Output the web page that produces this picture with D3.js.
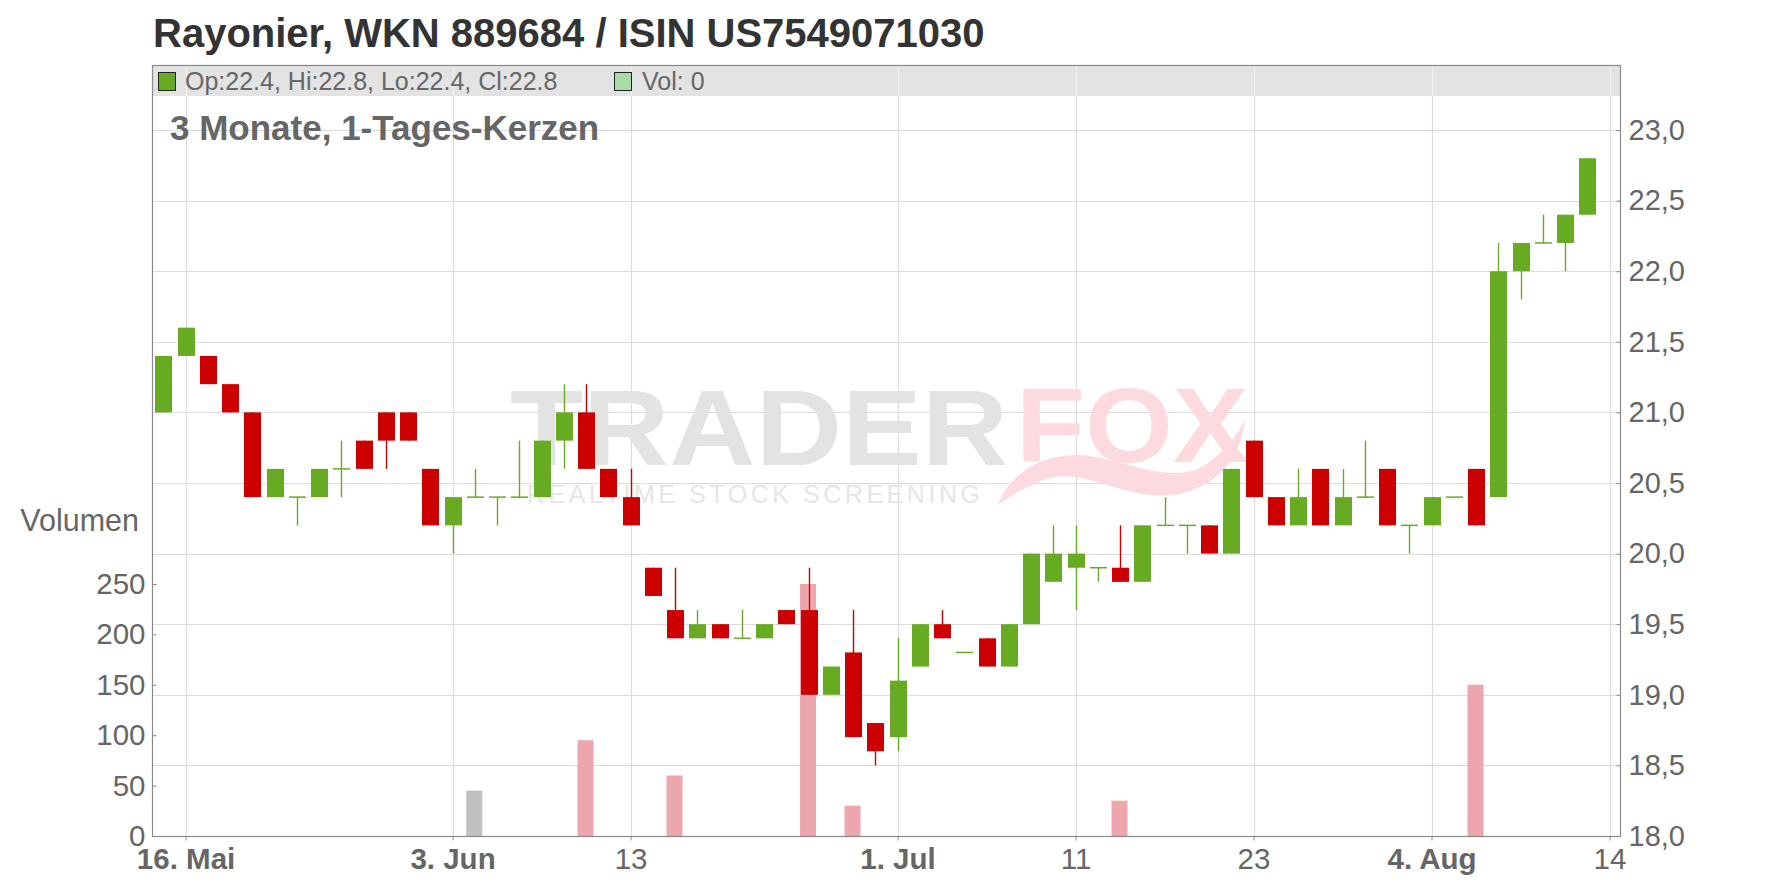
<!DOCTYPE html>
<html><head><meta charset="utf-8">
<script src="https://cdn.jsdelivr.net/npm/d3@7"></script>
<style>
body{margin:0;background:#fff;}
svg{display:block;font-family:"Liberation Sans",Arial,Helvetica,sans-serif;}
</style>
</head><body>
<svg id="c" width="1776" height="888"></svg>
<script>
// ---------- data ----------
const dates = ["2025-05-15","2025-05-16","2025-05-19","2025-05-20","2025-05-21","2025-05-22","2025-05-23",
"2025-05-26","2025-05-27","2025-05-28","2025-05-29","2025-05-30","2025-06-02","2025-06-03","2025-06-04",
"2025-06-05","2025-06-06","2025-06-09","2025-06-10","2025-06-11","2025-06-12","2025-06-13","2025-06-16",
"2025-06-17","2025-06-18","2025-06-19","2025-06-20","2025-06-23","2025-06-24","2025-06-25","2025-06-26",
"2025-06-27","2025-06-30","2025-07-01","2025-07-02","2025-07-03","2025-07-04","2025-07-07","2025-07-08",
"2025-07-09","2025-07-10","2025-07-11","2025-07-14","2025-07-15","2025-07-16","2025-07-17","2025-07-18",
"2025-07-21","2025-07-22","2025-07-23","2025-07-24","2025-07-25","2025-07-28","2025-07-29","2025-07-30",
"2025-07-31","2025-08-01","2025-08-04","2025-08-05","2025-08-06","2025-08-07","2025-08-08","2025-08-11",
"2025-08-12","2025-08-13"];
const openValues  = [21.0,21.4,21.4,21.2,21.0,20.4,20.4,20.4,20.6,20.8,21.0,21.0,20.6,20.2,20.4,20.4,20.4,20.4,20.8,21.0,20.6,20.4,
19.9,19.6,19.4,19.5,19.4,19.4,19.6,19.6,19.0,19.3,18.8,18.7,19.2,19.5,19.3,19.4,19.2,19.5,19.8,19.9,19.9,19.9,19.8,20.2,20.2,
20.2,20.0,20.8,20.4,20.2,20.6,20.2,20.4,20.6,20.2,20.2,20.4,20.6,20.4,22.0,22.2,22.2,22.4];
const highValues  = [21.4,21.6,21.4,21.2,21.0,20.6,20.4,20.6,20.8,20.8,21.0,21.0,20.6,20.4,20.6,20.4,20.8,20.8,21.2,21.2,20.6,20.6,
19.9,19.9,19.6,19.5,19.6,19.5,19.6,19.9,19.2,19.6,18.8,19.4,19.5,19.6,19.3,19.4,19.5,20.0,20.2,20.2,19.9,20.2,20.2,20.4,20.2,
20.2,20.6,20.8,20.4,20.6,20.6,20.6,20.8,20.6,20.2,20.4,20.4,20.6,22.2,22.2,22.4,22.4,22.8];
const lowValues   = [21.0,21.4,21.2,21.0,20.4,20.4,20.2,20.4,20.4,20.6,20.6,20.8,20.2,20.0,20.4,20.2,20.4,20.4,20.6,20.6,20.4,20.2,
19.7,19.4,19.4,19.4,19.4,19.4,19.5,19.0,19.0,18.7,18.5,18.6,19.2,19.4,19.3,19.2,19.2,19.5,19.8,19.6,19.8,19.8,19.8,20.2,20.0,
20.0,20.0,20.4,20.2,20.2,20.2,20.2,20.4,20.2,20.0,20.2,20.4,20.2,20.4,21.8,22.2,22.0,22.4];
const closeValues = [21.4,21.6,21.2,21.0,20.4,20.6,20.4,20.6,20.6,20.6,20.8,20.8,20.2,20.4,20.4,20.4,20.4,20.8,21.0,20.6,20.4,20.2,
19.7,19.4,19.5,19.4,19.4,19.5,19.5,19.0,19.2,18.7,18.6,19.1,19.5,19.4,19.3,19.2,19.5,20.0,20.0,20.0,19.9,19.8,20.2,20.2,20.2,
20.0,20.6,20.4,20.2,20.4,20.2,20.4,20.4,20.2,20.2,20.4,20.4,20.2,22.0,22.2,22.2,22.4,22.8];
const volumeValues = [0,0,0,0,0,0,0,0,0,0,0,0,0,0,45,0,0,0,0,95,0,0,0,60,0,0,0,0,0,250,0,30,0,0,0,0,0,0,0,0,0,0,0,35,0,0,0,
0,0,0,0,0,0,0,0,0,0,0,0,150,0,0,0,0,0];

const axisEndDate = "2025-08-14";
const priceTicks  = [18.0,18.5,19.0,19.5,20.0,20.5,21.0,21.5,22.0,22.5,23.0];
const volumeTicks = [0,50,100,150,200,250];
const xTickDates  = ["2025-05-16","2025-06-03","2025-06-13","2025-07-01","2025-07-11","2025-07-23","2025-08-04","2025-08-14"];
const xTickLabels = ["16. Mai","3. Jun","13","1. Jul","11","23","4. Aug","14"];
const xTickBold   = [true,true,false,true,false,false,true,false];

const titleText = "Rayonier, WKN 889684 / ISIN US7549071030";
const subtitleText = "3 Monate, 1-Tages-Kerzen";
const volumeLabel = "Volumen";

// ---------- layout ----------
const L = 152, R = 1620, T = 65, B = 836;
const GREEN = "#67ab23", RED = "#cc0000", VOL_RED = "#eea6ae", VOL_GREY = "#c0c0c0", VOL_GREEN = "#a8dba8";
const TXT = "#666666";

const svg = d3.select("#c");
const data = dates.map((d,i)=>({date:d,o:openValues[i],h:highValues[i],l:lowValues[i],c:closeValues[i],v:volumeValues[i]}));

const x = d3.scalePoint().domain(dates.concat([axisEndDate])).range([163.3, 1609.5]);
const y = d3.scaleLinear().domain([18,23]).range([B,130]);
const yv = d3.scaleLinear().domain([0,250]).range([B,584]);

// title
svg.append("text").attr("x",153).attr("y",47).attr("font-size",40).attr("font-weight","bold")
  .attr("fill","#333").text(titleText);

// horizontal grid
svg.append("g").selectAll("line").data(priceTicks.filter(t=>t>18)).join("line")
  .attr("x1",L).attr("x2",R).attr("y1",d=>Math.round(y(d))+0.5).attr("y2",d=>Math.round(y(d))+0.5)
  .attr("stroke","#dcdcdc").attr("stroke-width",1.2);

// legend bar background
svg.append("rect").attr("x",L).attr("y",T).attr("width",R-L).attr("height",31).attr("fill","#e3e3e3");

// vertical grid
const vg = svg.append("g");
vg.selectAll("line.g").data(xTickDates).join("line").attr("class","g")
  .attr("x1",d=>Math.round(x(d))+0.5).attr("x2",d=>Math.round(x(d))+0.5).attr("y1",T+31).attr("y2",B)
  .attr("stroke","#dcdcdc").attr("stroke-width",1.2);
vg.selectAll("line.h").data(xTickDates).join("line").attr("class","h")
  .attr("x1",d=>Math.round(x(d))+0.5).attr("x2",d=>Math.round(x(d))+0.5).attr("y1",T).attr("y2",T+31)
  .attr("stroke","#efefef").attr("stroke-width",1.2);

// watermark
const wm = svg.append("g");
wm.append("text").attr("x",510).attr("y",465).attr("font-size",108).attr("font-weight","bold")
  .attr("textLength",498).attr("lengthAdjust","spacingAndGlyphs").attr("fill","#e3e3e3").text("TRADER");
wm.append("path").attr("d","M998,505 C1010,470 1050,450 1090,456 C1130,462 1160,480 1195,470 C1215,462 1235,440 1245,420 C1240,470 1200,500 1150,495 C1110,490 1080,470 1050,478 C1030,484 1012,495 998,505 Z")
  .attr("fill","#fddadf");
wm.append("text").attr("x",1016).attr("y",462).attr("font-size",106).attr("font-weight","bold")
  .attr("textLength",232).attr("lengthAdjust","spacingAndGlyphs").attr("fill","#fddadf").text("FOX");
wm.append("text").attr("x",527).attr("y",503).attr("font-size",25)
  .attr("textLength",453).attr("lengthAdjust","spacing").attr("fill","#e6e6e6").text("REALTIME STOCK SCREENING");

// subtitle
svg.append("text").attr("x",170).attr("y",140).attr("font-size",35).attr("font-weight","bold")
  .attr("fill",TXT).text(subtitleText);

// volume bars
svg.append("g").selectAll("rect").data(data.filter(d=>d.v>0)).join("rect")
  .attr("x",d=>x(d.date)-8.5).attr("width",16)
  .attr("y",d=>yv(d.v)).attr("height",d=>yv(0)-yv(d.v))
  .attr("fill",d=>d.c<d.o?VOL_RED:(d.c>d.o?VOL_GREEN:VOL_GREY));

// candles
const cg = svg.append("g").selectAll("g").data(data).join("g");
cg.append("line")
  .attr("x1",d=>Math.round(x(d.date))+0.5).attr("x2",d=>Math.round(x(d.date))+0.5)
  .attr("y1",d=>y(d.h)).attr("y2",d=>y(d.l))
  .attr("stroke",d=>d.c<d.o?RED:GREEN).attr("stroke-width",1.4);
cg.append("rect")
  .attr("x",d=>Math.round(x(d.date))-8).attr("width",17)
  .attr("y",d=>d.c===d.o? y(d.o)-0.75 : y(Math.max(d.o,d.c)))
  .attr("height",d=>d.c===d.o? 1.5 : Math.abs(y(d.o)-y(d.c)))
  .attr("fill",d=>d.c<d.o?RED:GREEN);

// frame
svg.append("rect").attr("x",L+0.5).attr("y",T+0.5).attr("width",R-L).attr("height",B-T)
  .attr("fill","none").attr("stroke","#8a8a8a").attr("stroke-width",1.2);

// price axis (right)
const ay = svg.append("g").attr("transform",`translate(${R+0.5},0)`)
  .call(d3.axisRight(y).tickValues(priceTicks).tickSizeInner(-4).tickSizeOuter(0).tickPadding(8)
    .tickFormat(d=>d3.format(".1f")(d).replace(".",",")));
ay.select(".domain").remove();
ay.selectAll("line").attr("stroke","#8a8a8a");
ay.selectAll("text").attr("font-size",29).attr("fill",TXT).attr("font-family",null);

// volume axis (left)
const av = svg.append("g").attr("transform",`translate(${L+0.5},0)`)
  .call(d3.axisLeft(yv).tickValues(volumeTicks).tickSizeInner(-4).tickSizeOuter(0).tickPadding(7));
av.select(".domain").remove();
av.selectAll("line").attr("stroke","#8a8a8a");
av.selectAll("text").attr("font-size",29.5).attr("fill",TXT).attr("font-family",null);
svg.append("text").attr("x",139).attr("y",531).attr("text-anchor","end").attr("font-size",30.5)
  .attr("fill",TXT).text(volumeLabel);

// x axis
const ax = svg.append("g").attr("transform",`translate(0,${B+0.5})`)
  .call(d3.axisBottom(x).tickValues(xTickDates).tickSizeInner(4).tickSizeOuter(0).tickPadding(8)
    .tickFormat((d,i)=>xTickLabels[i]));
ax.select(".domain").remove();
ax.selectAll("line").attr("stroke","#8a8a8a");
ax.selectAll("text").attr("font-size",29.5).attr("fill",TXT).attr("font-family",null)
  .attr("font-weight",(d,i)=>xTickBold[i]?"bold":"normal");

// legend
const lg = svg.append("g");
const last = data[data.length-1];
lg.append("rect").attr("x",158.5).attr("y",72.5).attr("width",17).attr("height",18)
  .attr("fill",last.c>=last.o?GREEN:RED).attr("stroke","#222");
lg.append("text").attr("x",185).attr("y",89.5).attr("font-size",25).attr("fill",TXT)
  .text(`Op:${last.o.toFixed(1)}, Hi:${last.h.toFixed(1)}, Lo:${last.l.toFixed(1)}, Cl:${last.c.toFixed(1)}`);
lg.append("rect").attr("x",614.5).attr("y",72.5).attr("width",17).attr("height",18)
  .attr("fill",VOL_GREEN).attr("stroke","#222");
lg.append("text").attr("x",642).attr("y",89.5).attr("font-size",25).attr("fill",TXT).text(`Vol: ${last.v}`);
</script>
</body></html>
